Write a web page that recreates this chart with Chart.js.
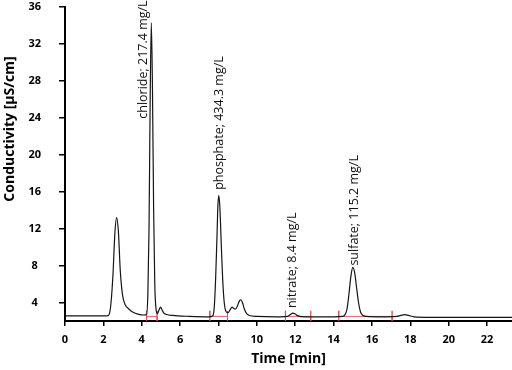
<!DOCTYPE html>
<html>
<head>
<meta charset="utf-8">
<script src="https://cdn.jsdelivr.net/npm/chart.js@4"></script>
<style>
html,body{margin:0;padding:0;background:#fff;}
#wrap{width:512px;height:370px;position:relative;}
</style>
</head>
<body>
<div id="wrap"><canvas id="c" width="512" height="370"></canvas></div>
<script>
// chromatogram: time [min] and conductivity [µS/cm]
const timeMin = [0, 1, 2.0, 2.2, 2.3, 2.4, 2.5, 2.6, 2.69, 2.78, 2.88, 3.0, 3.15, 3.3, 3.5, 3.8, 4.1,
  4.25, 4.32, 4.38, 4.44, 4.5, 4.56, 4.62, 4.68, 4.75, 4.82, 4.9, 4.98, 5.06, 5.15, 5.3, 5.6, 6.5,
  7.5, 7.7, 7.78, 7.85, 7.92, 7.97, 8.02, 8.08, 8.15, 8.22, 8.3, 8.4, 8.5, 8.6, 8.71, 8.8, 8.9, 9.0, 9.1, 9.17, 9.25, 9.35, 9.45, 9.6, 10.0,
  11.0, 11.6, 11.75, 11.88, 12.0, 12.15, 12.5,
  14.0, 14.5, 14.6, 14.7, 14.8, 14.9, 15.0, 15.1, 15.2, 15.3, 15.4, 15.5, 15.7, 16.5,
  17.3, 17.5, 17.7, 17.9, 18.2, 19, 20, 21, 22, 23.3];
const conductivity = [2.55, 2.55, 2.55, 2.56, 2.7, 4.0, 7.0, 11.5, 13.2, 11.8, 7.5, 4.8, 3.7, 3.35, 3.0, 2.75, 2.65,
  2.7, 5.0, 12.0, 26.0, 34.3, 27.0, 14.0, 6.0, 3.2, 2.8, 3.2, 3.5, 3.2, 2.85, 2.7, 2.6, 2.5,
  2.45, 2.55, 3.5, 6.5, 11.0, 14.5, 15.6, 14.0, 10.0, 6.5, 4.0, 3.0, 2.9, 3.2, 3.5, 3.35, 3.3, 3.7, 4.2, 4.3, 4.0, 3.3, 2.85, 2.6, 2.5,
  2.45, 2.5, 2.7, 2.85, 2.75, 2.55, 2.45,
  2.45, 2.5, 2.7, 3.3, 4.9, 6.8, 7.8, 7.2, 5.6, 4.0, 3.0, 2.65, 2.5, 2.45,
  2.5, 2.6, 2.68, 2.6, 2.45, 2.4, 2.4, 2.4, 2.4, 2.4];
// integration windows (start, end) in minutes
const windowStart = [4.25, 7.55, 11.49, 14.27];
const windowEnd = [4.8, 8.47, 12.81, 17.05];
const windowLevel = 2.5;
const windowTickLow = 2.0;
const windowTickHigh = 3.1;
// peak labels
const peakLabels = ['chloride; 217.4 mg/L', 'phosphate; 434.3 mg/L', 'nitrate; 8.4 mg/L', 'sulfate; 115.2 mg/L'];
const peakLabelTime = [4.09, 8.07, 11.87, 15.1];
const peakLabelValue = [23.9, 16.2, 3.4, 8.0];
// axis ticks
const xTicks = [0, 2, 4, 6, 8, 10, 12, 14, 16, 18, 20, 22];
const yTicks = [4, 8, 12, 16, 20, 24, 28, 32, 36];

const FONT = "'Open Sans', 'DejaVu Sans', sans-serif";

const mainData = timeMin.map((t, i) => ({x: t, y: conductivity[i]}));
const windowSets = windowStart.map((s, i) => ({
  data: [
    {x: s, y: windowTickHigh}, {x: s, y: windowTickLow}, {x: s, y: windowLevel},
    {x: windowEnd[i], y: windowLevel}, {x: windowEnd[i], y: windowTickHigh}, {x: windowEnd[i], y: windowTickLow}
  ],
  borderColor: 'rgba(222,80,80,0.9)',
  borderWidth: 1,
  pointRadius: 0,
  tension: 0,
  fill: false
}));

const labelPlugin = {
  id: 'peakLabels',
  afterDatasetsDraw(chart) {
    const ctx = chart.ctx;
    const xs = chart.scales.x, ys = chart.scales.y;
    ctx.save();
    ctx.fillStyle = '#111';
    ctx.font = "12.5px " + FONT;
    ctx.textAlign = 'left';
    ctx.textBaseline = 'middle';
    peakLabels.forEach((txt, i) => {
      const px = xs.getPixelForValue(peakLabelTime[i]);
      const py = ys.getPixelForValue(peakLabelValue[i]);
      ctx.save();
      ctx.translate(px, py);
      ctx.rotate(-Math.PI / 2);
      ctx.fillText(txt, 0, 0);
      ctx.restore();
    });
    // y-axis title
    ctx.font = "bold 14px " + FONT;
    ctx.textAlign = 'center';
    ctx.fillStyle = '#000';
    ctx.save();
    ctx.translate(10, 129);
    ctx.rotate(-Math.PI / 2);
    ctx.fillText('Conductivity [µS/cm]', 0, 0);
    ctx.restore();
    ctx.restore();
  }
};

new Chart(document.getElementById('c'), {
  type: 'line',
  data: {
    datasets: [{
      data: mainData,
      borderColor: '#151515',
      borderWidth: 1.2,
      pointRadius: 0,
      cubicInterpolationMode: 'monotone',
      fill: false
    }].concat(windowSets)
  },
  options: {
    responsive: false,
    animation: false,
    events: [],
    layout: {padding: {top: 0, right: 0, left: 0, bottom: 0}},
    plugins: {legend: {display: false}, tooltip: {enabled: false}},
    scales: {
      x: {
        type: 'linear',
        min: 0,
        max: 23.3,
        afterBuildTicks: s => { s.ticks = xTicks.map(v => ({value: v})); },
        afterFit: s => { s.height = 49; s.paddingRight = 0; },
        grid: {drawOnChartArea: false, drawTicks: true, tickLength: 5, color: '#000', lineWidth: 1.5},
        border: {display: true, color: '#000', width: 2},
        ticks: {color: '#000', padding: 7, maxRotation: 0, font: {family: FONT, size: 11, weight: 'bold'}},
        title: {display: true, text: 'Time [min]', color: '#000', font: {family: FONT, size: 14, weight: 'bold'}, padding: {top: 0, bottom: 3}}
      },
      y: {
        type: 'linear',
        min: 2,
        max: 36,
        afterBuildTicks: s => { s.ticks = yTicks.map(v => ({value: v})); },
        afterFit: s => { s.width = 65; s.paddingTop = 7; s.paddingBottom = 7; },
        grid: {drawOnChartArea: false, drawTicks: true, tickLength: 6, color: '#000', lineWidth: 1.5},
        border: {display: true, color: '#000', width: 2},
        ticks: {color: '#000', padding: 18, crossAlign: 'center', font: {family: FONT, size: 11, weight: 'bold'}}
      }
    }
  },
  plugins: [labelPlugin]
});
</script>
</body>
</html>
